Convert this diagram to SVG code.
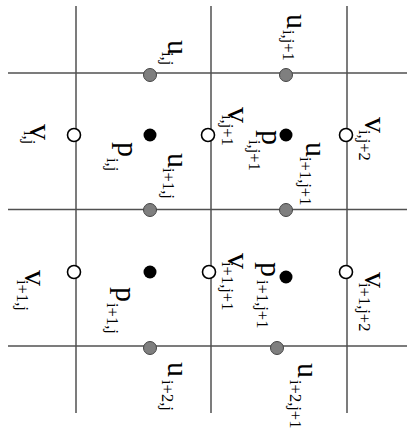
<svg xmlns="http://www.w3.org/2000/svg" width="407" height="431" viewBox="0 0 407 431">
<style>
.grid line{stroke:#505050;stroke-width:1.5}
.u{fill:#7f7f7f;stroke:#454545;stroke-width:1}
.p{fill:#000}
.v{fill:#fff;stroke:#000;stroke-width:1.6}
text{font-family:"Liberation Serif","Times New Roman",serif;fill:#000}
.m{font-size:30px}
.mv{font-size:32px}
.s{font-size:16.5px}
</style>
<rect width="407" height="431" fill="#fff"/>
<g id="grid" class="grid">
<line x1="76" y1="6" x2="76" y2="413"/>
<line x1="211" y1="6" x2="211" y2="413"/>
<line x1="347" y1="6" x2="347" y2="413"/>
<line x1="8" y1="73" x2="407" y2="73"/>
<line x1="8" y1="209.5" x2="407" y2="209.5"/>
<line x1="8" y1="346" x2="407" y2="346"/>
</g>
<g id="u_ij"><circle class="u" cx="150" cy="75" r="6.5"/><text class="m" transform="rotate(90)" x="40" y="-168">u</text><text class="s" transform="rotate(90)" x="52" y="-162">i,j</text></g>
<g id="u_ij1"><circle class="u" cx="286" cy="75" r="6.5"/><text class="m" transform="rotate(90)" x="14" y="-287">u</text><text class="s" transform="rotate(90)" x="30" y="-283">i,j+1</text></g>
<g id="v_ij"><circle class="v" cx="74" cy="135" r="6.5"/><text class="mv" transform="rotate(90)" x="124" y="-30">v</text><text class="s" transform="rotate(90)" x="131" y="-24">i,j</text></g>
<g id="p_ij"><circle class="p" cx="150" cy="135" r="6.5"/><text class="m" transform="rotate(90)" x="142" y="-118">p</text><text class="s" transform="rotate(90)" x="158" y="-107">i,j</text></g>
<g id="u_i1j"><circle class="u" cx="150" cy="210" r="6.5"/><text class="m" transform="rotate(90)" x="153" y="-168">u</text><text class="s" transform="rotate(90)" x="168" y="-163">i+1,j</text></g>
<g id="v_ij1"><circle class="v" cx="208" cy="135" r="6.5"/><text class="mv" transform="rotate(90)" x="107" y="-228">v</text><text class="s" transform="rotate(90)" x="115" y="-222">i,j+1</text></g>
<g id="p_ij1"><circle class="p" cx="286" cy="135" r="6.5"/><text class="m" transform="rotate(90)" x="130" y="-262">p</text><text class="s" transform="rotate(90)" x="140" y="-249">i,j+1</text></g>
<g id="u_i1j1"><circle class="u" cx="286" cy="210" r="6.5"/><text class="m" transform="rotate(90)" x="142" y="-306">u</text><text class="s" transform="rotate(90)" x="157" y="-300">i+1,j+1</text></g>
<g id="v_ij2"><circle class="v" cx="346" cy="135" r="6.5"/><text class="mv" transform="rotate(90)" x="117" y="-365">v</text><text class="s" transform="rotate(90)" x="130" y="-359">i,j+2</text></g>
<g id="v_i1j"><circle class="v" cx="74" cy="272" r="6.5"/><text class="mv" transform="rotate(90)" x="270" y="-25">v</text><text class="s" transform="rotate(90)" x="280" y="-17">i+1,j</text></g>
<g id="p_i1j"><circle class="p" cx="150" cy="272" r="6.5"/><text class="m" transform="rotate(90)" x="287" y="-116">p</text><text class="s" transform="rotate(90)" x="303" y="-107">i+1,j</text></g>
<g id="u_i2j"><circle class="u" cx="150" cy="348" r="6.5"/><text class="m" transform="rotate(90)" x="362" y="-168">u</text><text class="s" transform="rotate(90)" x="380" y="-162">i+2,j</text></g>
<g id="v_i1j1"><circle class="v" cx="209" cy="272" r="6.5"/><text class="mv" transform="rotate(90)" x="253" y="-228">v</text><text class="s" transform="rotate(90)" x="262" y="-222">i+1,j+1</text></g>
<g id="p_i1j1"><circle class="p" cx="286" cy="277" r="6.5"/><text class="m" transform="rotate(90)" x="262" y="-261">p</text><text class="s" transform="rotate(90)" x="280" y="-257">i+1,j+1</text></g>
<g id="v_i1j2"><circle class="v" cx="346" cy="272" r="6.5"/><text class="mv" transform="rotate(90)" x="272" y="-365">v</text><text class="s" transform="rotate(90)" x="283" y="-359">i+1,j+2</text></g>
<g id="u_i2j1"><circle class="u" cx="277" cy="348" r="6.5"/><text class="m" transform="rotate(90)" x="363" y="-298">u</text><text class="s" transform="rotate(90)" x="380" y="-290">i+2,j+1</text></g>
</svg>
